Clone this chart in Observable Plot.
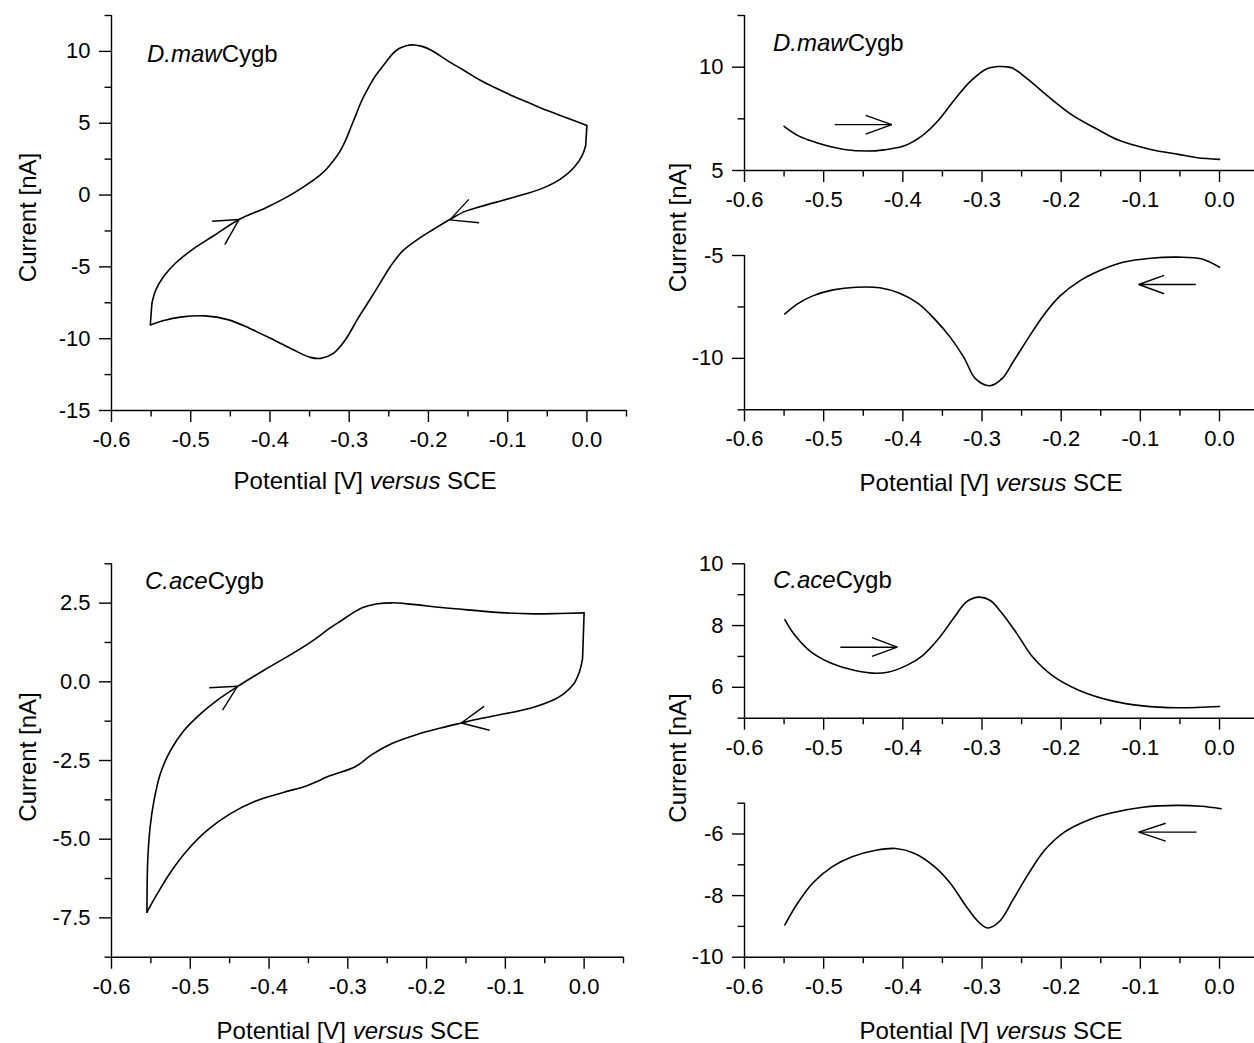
<!DOCTYPE html>
<html><head><meta charset="utf-8">
<script src="https://cdn.jsdelivr.net/npm/d3@7"></script>
<script src="https://cdn.jsdelivr.net/npm/@observablehq/plot@0.6"></script>
<style>
html,body{margin:0;padding:0;background:#fff;overflow:hidden;}
#wrap{position:relative;width:1254px;height:1043px;overflow:hidden;background:#fff;}
#wrap svg{position:absolute;}
</style></head><body><div id="wrap"></div>
<script>
// ---------- data ----------
const xMajor = [-0.6, -0.5, -0.4, -0.3, -0.2, -0.1, 0.0];
const xMinor = [-0.55, -0.45, -0.35, -0.25, -0.15, -0.05, 0.05];

// Panel A: D.maw Cygb cyclic voltammogram (forward = anodic scan, reverse = cathodic scan)
const cvA_fwd_v = [-0.549,-0.544,-0.534,-0.519,-0.498,-0.472,-0.439,-0.405,-0.380,-0.359,-0.338,-0.328,-0.320,-0.312,-0.305,-0.298,-0.291,-0.284,-0.276,-0.268,-0.260,-0.253,-0.245,-0.237,-0.228,-0.218,-0.208,-0.197,-0.176,-0.155,-0.134,-0.113,-0.092,-0.071,-0.050,-0.025,0.000];
const cvA_fwd_i = [-7.53,-6.6,-5.66,-4.73,-3.8,-2.87,-1.70,-0.88,-0.18,0.52,1.33,1.85,2.38,3.0,3.75,4.7,5.65,6.6,7.45,8.2,8.8,9.3,9.85,10.2,10.4,10.45,10.35,10.1,9.36,8.67,7.97,7.4,6.86,6.37,5.88,5.37,4.84];
const cvA_rev_v = [-0.0015,-0.006,-0.016,-0.033,-0.058,-0.092,-0.134,-0.153,-0.173,-0.194,-0.214,-0.233,-0.248,-0.261,-0.274,-0.290,-0.305,-0.320,-0.336,-0.349,-0.370,-0.395,-0.426,-0.452,-0.482,-0.513,-0.534,-0.551];
const cvA_rev_i = [3.45,2.75,1.94,1.13,0.43,-0.15,-0.80,-1.12,-1.70,-2.40,-3.10,-3.92,-4.97,-6.13,-7.29,-8.69,-10.09,-11.02,-11.37,-11.30,-10.79,-10.09,-9.27,-8.69,-8.41,-8.5,-8.74,-9.04];
const arrowsA = [[-0.439,-1.70,-0.473,-1.82],[-0.439,-1.70,-0.457,-3.45],[-0.173,-1.73,-0.149,-0.30],[-0.173,-1.73,-0.136,-1.93]];

// Panel B: D.maw Cygb differential pulse (oxidative, reductive)
const dpvB1_v = [-0.550,-0.533,-0.518,-0.498,-0.474,-0.444,-0.424,-0.399,-0.375,-0.355,-0.335,-0.315,-0.295,-0.280,-0.270,-0.261,-0.241,-0.216,-0.186,-0.156,-0.127,-0.087,-0.052,-0.028,0.000];
const dpvB1_i = [7.14,6.70,6.46,6.22,6.02,5.94,6.00,6.18,6.70,7.43,8.41,9.30,9.90,10.03,10.02,9.95,9.38,8.57,7.68,7.03,6.46,6.02,5.78,5.62,5.54];
const dpvB2_v = [-0.549,-0.533,-0.513,-0.488,-0.459,-0.429,-0.404,-0.380,-0.360,-0.340,-0.323,-0.308,-0.290,-0.275,-0.261,-0.241,-0.221,-0.201,-0.176,-0.151,-0.122,-0.087,-0.052,-0.023,0.000];
const dpvB2_i = [-7.84,-7.35,-6.95,-6.67,-6.54,-6.57,-6.84,-7.35,-8.08,-8.98,-9.95,-11.0,-11.33,-11.0,-10.19,-8.98,-7.84,-6.95,-6.22,-5.73,-5.33,-5.13,-5.08,-5.16,-5.57];
const arrowsB1 = [[-0.486,7.22,-0.414,7.22],[-0.414,7.22,-0.447,7.67],[-0.414,7.22,-0.447,6.76]];
const arrowsB2 = [[-0.030,-6.41,-0.102,-6.41],[-0.102,-6.41,-0.070,-5.97],[-0.102,-6.41,-0.070,-6.86]];

// Panel C: C.ace Cygb cyclic voltammogram
const cvC_fwd_v = [-0.555,-0.554,-0.551,-0.546,-0.538,-0.525,-0.508,-0.487,-0.466,-0.440,-0.407,-0.364,-0.342,-0.322,-0.306,-0.293,-0.280,-0.264,-0.244,-0.218,-0.181,-0.140,-0.106,-0.064,-0.031,0.000];
const cvC_fwd_i = [-7.32,-5.68,-4.62,-3.77,-2.92,-2.18,-1.55,-1.02,-0.59,-0.15,0.36,0.99,1.35,1.72,1.98,2.20,2.37,2.47,2.51,2.46,2.36,2.27,2.20,2.16,2.17,2.19];
const cvC_rev_v = [-0.002,-0.006,-0.013,-0.026,-0.043,-0.064,-0.089,-0.106,-0.130,-0.156,-0.181,-0.213,-0.244,-0.270,-0.290,-0.322,-0.352,-0.381,-0.415,-0.449,-0.479,-0.504,-0.525,-0.542,-0.555];
const cvC_rev_i = [0.73,0.31,-0.06,-0.38,-0.62,-0.81,-0.96,-1.04,-1.16,-1.31,-1.46,-1.68,-1.96,-2.32,-2.69,-2.98,-3.30,-3.51,-3.77,-4.19,-4.73,-5.36,-6.05,-6.74,-7.32];
const arrowsC = [[-0.440,-0.14,-0.476,-0.19],[-0.440,-0.14,-0.459,-0.90],[-0.156,-1.31,-0.127,-0.78],[-0.156,-1.31,-0.120,-1.54]];

// Panel D: C.ace Cygb differential pulse
const dpvD1_v = [-0.549,-0.538,-0.518,-0.494,-0.469,-0.439,-0.419,-0.395,-0.375,-0.355,-0.335,-0.320,-0.305,-0.290,-0.276,-0.256,-0.236,-0.211,-0.177,-0.137,-0.097,-0.053,0.000];
const dpvD1_i = [8.19,7.74,7.19,6.82,6.60,6.46,6.49,6.71,7.03,7.57,8.27,8.76,8.92,8.82,8.44,7.74,6.98,6.38,5.90,5.57,5.40,5.34,5.38];
const dpvD2_v = [-0.549,-0.533,-0.514,-0.489,-0.464,-0.434,-0.409,-0.385,-0.360,-0.340,-0.320,-0.305,-0.293,-0.278,-0.261,-0.241,-0.221,-0.196,-0.167,-0.137,-0.097,-0.053,-0.023,0.002];
const dpvD2_i = [-8.95,-8.25,-7.60,-7.06,-6.74,-6.53,-6.47,-6.63,-7.06,-7.60,-8.35,-8.84,-9.05,-8.84,-8.14,-7.28,-6.53,-5.94,-5.56,-5.32,-5.13,-5.07,-5.10,-5.18];
const arrowsD1 = [[-0.479,7.30,-0.407,7.30],[-0.407,7.30,-0.439,7.61],[-0.407,7.30,-0.439,7.00]];
const arrowsD2 = [[-0.029,-5.94,-0.102,-5.94],[-0.102,-5.94,-0.068,-5.65],[-0.102,-5.94,-0.068,-6.23]];

// ---------- drawing ----------
const FONT = "'Liberation Sans', Arial, Helvetica, sans-serif";
const INK = "#000";
const wrap = document.getElementById("wrap");
const rows = (vs, is, s = 0) => vs.map((v, k) => ({v, i: is[k], s}));
const segs = (a) => a.map(([x1, y1, x2, y2]) => ({x1, y1, x2, y2}));
const fmt1 = d => d.toFixed(1);
const fmt0 = d => String(d);

// join the two scans of a voltammogram at the switching potentials (straight vertical parts)
function joins(fv, fi, rv, ri) {
  const n = fv.length - 1, m = rv.length - 1;
  return [{x1: fv[n], y1: fi[n], x2: rv[0], y2: ri[0]}, {x1: rv[m], y1: ri[m], x2: fv[0], y2: fi[0]}];
}

function panel(c) {
  const xDomain = [-0.6, 0.05];
  const p = Plot.plot({
    width: c.W, height: c.H,
    marginLeft: c.fl - c.left, marginRight: c.left + c.W - c.fr,
    marginTop: c.ft - c.top, marginBottom: c.top + c.H - c.fb,
    x: {domain: xDomain, label: null},
    y: {domain: c.yDomain, label: null},
    style: {fontFamily: FONT, fontSize: "22px", color: INK, background: "transparent", overflow: "visible"},
    marks: [
      Plot.ruleX([xDomain[0]], {stroke: INK, strokeWidth: 1.4}),
      Plot.ruleY([c.yDomain[0]], {stroke: INK, strokeWidth: 1.4}),
      Plot.axisX(xMajor, {tickSize: 12, tickPadding: 9, tickFormat: fmt1, label: null, stroke: INK, strokeWidth: 1.4, fill: INK}),
      Plot.axisX(xMinor, {tickSize: 6.5, tickFormat: () => "", label: null, stroke: INK, strokeWidth: 1.4}),
      Plot.axisY(c.yMajor, {tickSize: 12, tickPadding: 9, tickFormat: c.yFmt, label: null, stroke: INK, strokeWidth: 1.4, fill: INK}),
      Plot.axisY(c.yMinor, {tickSize: 6.5, tickFormat: () => "", label: null, stroke: INK, strokeWidth: 1.4}),
      Plot.line(c.data, {x: "v", y: "i", z: "s", curve: "catmull-rom", stroke: INK, strokeWidth: 1.6}),
      Plot.link(c.joins || [], {x1: "x1", y1: "y1", x2: "x2", y2: "y2", stroke: INK, strokeWidth: 1.6}),
      Plot.link(c.arrows, {x1: "x1", y1: "y1", x2: "x2", y2: "y2", stroke: INK, strokeWidth: 1.4})
    ]
  });
  p.style.left = c.left + "px";
  p.style.top = c.top + "px";
  p.style.maxWidth = "none";
  wrap.appendChild(p);
}

panel({left: 0, top: 0, W: 640, H: 500, fl: 111, fr: 626, ft: 15, fb: 410,
  yDomain: [-15, 12.5], yMajor: [-15, -10, -5, 0, 5, 10], yMinor: [-12.5, -7.5, -2.5, 2.5, 7.5, 12.5], yFmt: fmt0,
  data: [...rows(cvA_fwd_v, cvA_fwd_i, 0), ...rows(cvA_rev_v, cvA_rev_i, 1)],
  joins: joins(cvA_fwd_v, cvA_fwd_i, cvA_rev_v, cvA_rev_i), arrows: segs(arrowsA)});
panel({left: 640, top: 0, W: 622, H: 200, fl: 744, fr: 1258.6, ft: 15, fb: 170,
  yDomain: [5, 12.5], yMajor: [5, 10], yMinor: [7.5, 12.5], yFmt: fmt0,
  data: rows(dpvB1_v, dpvB1_i), arrows: segs(arrowsB1)});
panel({left: 640, top: 240, W: 622, H: 200, fl: 744, fr: 1258.6, ft: 255, fb: 409.3,
  yDomain: [-12.5, -5], yMajor: [-10, -5], yMinor: [-12.5, -7.5], yFmt: fmt0,
  data: rows(dpvB2_v, dpvB2_i), arrows: segs(arrowsB2)});
panel({left: 0, top: 540, W: 640, H: 500, fl: 111, fr: 623, ft: 563.3, fb: 956.7,
  yDomain: [-8.75, 3.75], yMajor: [-7.5, -5, -2.5, 0, 2.5], yMinor: [-8.75, -6.25, -3.75, -1.25, 1.25, 3.75], yFmt: fmt1,
  data: [...rows(cvC_fwd_v, cvC_fwd_i, 0), ...rows(cvC_rev_v, cvC_rev_i, 1)],
  joins: joins(cvC_fwd_v, cvC_fwd_i, cvC_rev_v, cvC_rev_i), arrows: segs(arrowsC)});
panel({left: 640, top: 540, W: 622, H: 200, fl: 744, fr: 1258.6, ft: 563.3, fb: 717.7,
  yDomain: [5, 10], yMajor: [6, 8, 10], yMinor: [5, 7, 9], yFmt: fmt0,
  data: rows(dpvD1_v, dpvD1_i), arrows: segs(arrowsD1)});
panel({left: 640, top: 780, W: 622, H: 200, fl: 744, fr: 1258.6, ft: 802.7, fb: 956.7,
  yDomain: [-10, -5], yMajor: [-10, -8, -6], yMinor: [-9, -7, -5], yFmt: fmt0,
  data: rows(dpvD2_v, dpvD2_i), arrows: segs(arrowsD2)});

// ---------- titles and annotations ----------
const ov = d3.select(wrap).append("svg").attr("width", 1254).attr("height", 1043)
  .style("left", "0px").style("top", "0px").style("pointer-events", "none");
function txt(x, y, parts, {size = 24, anchor = "start", rotate = false} = {}) {
  const t = ov.append("text").attr("font-family", FONT).attr("font-size", size)
    .attr("fill", INK).attr("text-anchor", anchor);
  if (rotate) t.attr("transform", `translate(${x},${y}) rotate(-90)`);
  else t.attr("x", x).attr("y", y);
  for (const [s, it] of parts) t.append("tspan").attr("font-style", it ? "italic" : "normal").text(s);
}
const xTitle = [["Potential [V] ", false], ["versus", true], [" SCE", false]];
const yTitle = [["Current [nA]", false]];
const dmaw = [["D.maw", true], ["Cygb", false]];
const cace = [["C.ace", true], ["Cygb", false]];

txt(36, 217.5, yTitle, {anchor: "middle", rotate: true});
txt(365, 489, xTitle, {anchor: "middle"});
txt(147, 62, dmaw);

txt(686, 227.5, yTitle, {anchor: "middle", rotate: true});
txt(991, 491, xTitle, {anchor: "middle"});
txt(773, 51, dmaw);

txt(36, 757, yTitle, {anchor: "middle", rotate: true});
txt(348, 1039, xTitle, {anchor: "middle"});
txt(145, 589, cace);

txt(686, 758, yTitle, {anchor: "middle", rotate: true});
txt(991, 1039, xTitle, {anchor: "middle"});
txt(773, 587.5, cace);
</script></body></html>
